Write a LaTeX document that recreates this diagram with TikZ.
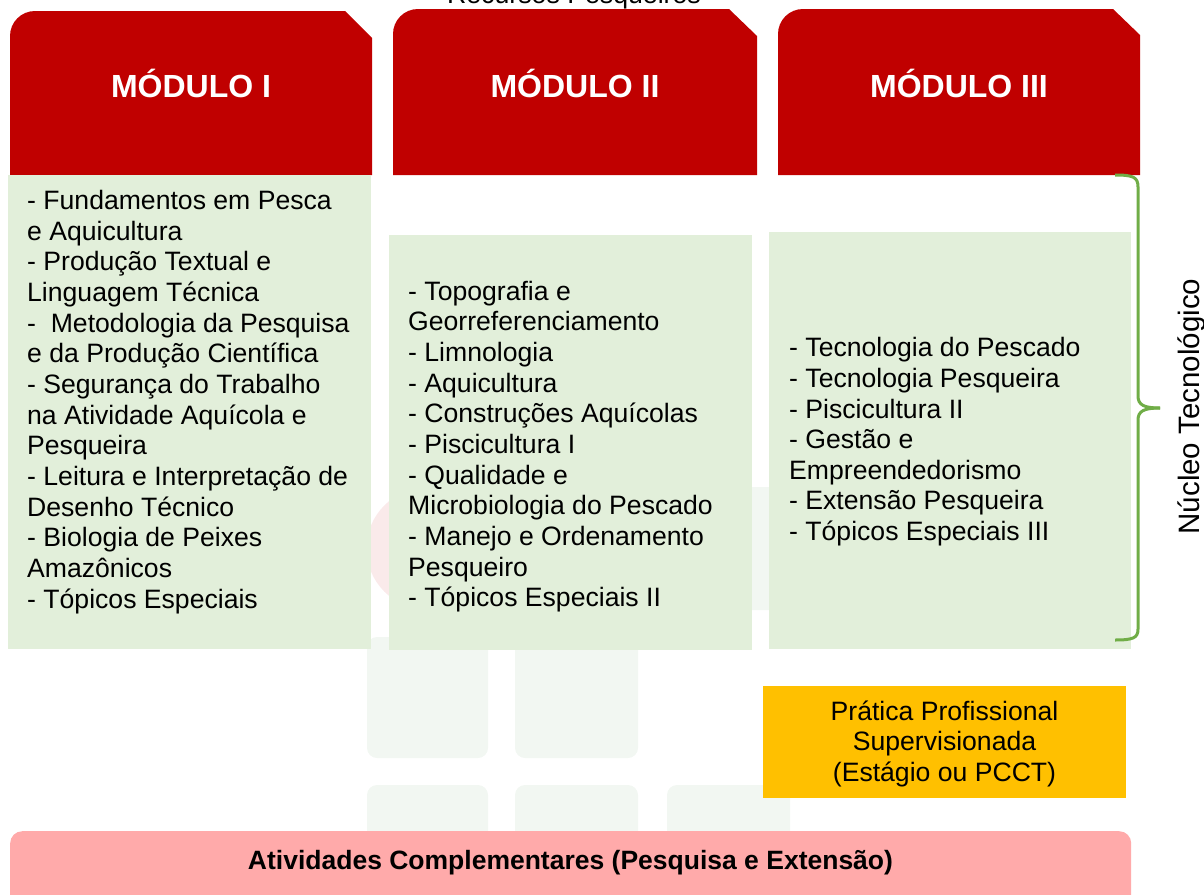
\documentclass[tikz,border=0pt]{standalone}
\usepackage{fontspec}
\setmainfont{Liberation Sans}
\definecolor{hdrred}{HTML}{C00000}
\definecolor{boxgreen}{HTML}{E2EFDA}
\definecolor{braceg}{HTML}{70AD47}
\definecolor{yel}{HTML}{FFC000}
\definecolor{pinkb}{HTML}{FFAAAA}
\definecolor{wmgreen}{HTML}{F2F7F2}
\definecolor{wmred}{HTML}{FAEAEA}
\tikzset{
  hdrshape/.style={fill=hdrred},
  hdrtitle/.style={text=white,font=\fontsize{32}{37}\selectfont\bfseries,inner sep=0pt,anchor=base},
  gbox/.style={fill=boxgreen,draw=none,inner sep=0pt,anchor=north west},
  listtext/.style={font=\fontsize{26.6}{30.65}\selectfont,align=left,inner sep=0pt,anchor=base west,text=black},
  wmsq/.style={fill=wmgreen,rounded corners=10pt},
}
\begin{document}
\begin{tikzpicture}[x=1pt,y=-1pt]
\useasboundingbox (0,0) rectangle (1204,894);
% watermark
\fill[wmred] (427.5,548.5) circle (61);
\fill[wmsq] (515,487) rectangle (638,610);
\fill[wmsq] (667,487) rectangle (790,610);
\fill[wmsq] (367,637) rectangle (488,758);
\fill[wmsq] (515,637) rectangle (638,758);
\fill[wmsq] (367,785) rectangle (488,908);
\fill[wmsq] (515,785) rectangle (638,908);
\fill[wmsq] (667,785) rectangle (790,908);
% top text
\node[font=\fontsize{26.7}{30}\selectfont,inner sep=0pt,anchor=base] (rp) at (574,3) {Recursos Pesqueiros};
% headers
\fill[hdrshape] (10,175) -- (10,36) arc[start angle=180,end angle=270,radius=25] -- (345,11) -- (372,38) -- (372,175) -- cycle;
\fill[hdrshape] (393,175) -- (393,34) arc[start angle=180,end angle=270,radius=25] -- (729,9) -- (757,36) -- (757,175) -- cycle;
\fill[hdrshape] (778,175) -- (778,34) arc[start angle=180,end angle=270,radius=25] -- (1113,9) -- (1140,35) -- (1140,175) -- cycle;
\node[hdrtitle] (t1) at (191,97) {MÓDULO I};
\node[hdrtitle] (t2) at (575,97) {MÓDULO II};
\node[hdrtitle] (t3) at (959,97) {MÓDULO III};
% green boxes
\node[gbox,minimum width=363.4pt,minimum height=473.3pt] (g1) at (7.3,175) {};
\node[gbox,minimum width=363.4pt,minimum height=414.3pt] (g2) at (388.3,235) {};
\node[gbox,minimum width=362pt,minimum height=417pt] (g3) at (769,232) {};
% lists (anchor = baseline of last line)
\node[listtext] (l1) at (27,608) {- Fundamentos em Pesca\\e Aquicultura\\- Produção Textual e\\Linguagem Técnica\\-~ Metodologia da Pesquisa\\e da Produção Científica\\- Segurança do Trabalho\\na Atividade Aquícola e\\Pesqueira\\- Leitura e Interpretação de\\Desenho Técnico\\- Biologia de Peixes\\Amazônicos\\- Tópicos Especiais};
\node[listtext] (l2) at (408,606.7) {- Topografia e\\Georreferenciamento\\- Limnologia\\- Aquicultura\\- Construções Aquícolas\\- Piscicultura I\\- Qualidade e\\Microbiologia do Pescado\\- Manejo e Ordenamento\\Pesqueiro\\- Tópicos Especiais II};
\node[listtext] (l3) at (789,540.6) {- Tecnologia do Pescado\\- Tecnologia Pesqueira\\- Piscicultura II\\- Gestão e\\Empreendedorismo\\- Extensão Pesqueira\\- Tópicos Especiais III};
% brace
\coordinate (bt) at (1115,175);
\coordinate (bb) at (1115,640);
\coordinate (btip) at (1160,408);
\draw[braceg,line width=3pt] (bt) .. controls (1133,175) and (1138,177) .. (1138,187) -- (1138,396) .. controls (1138,405) and (1144,408) .. (btip);
\draw[braceg,line width=3pt] (btip) .. controls (1144,408) and (1138,411) .. (1138,420) -- (1138,629) .. controls (1138,638) and (1133,640) .. (bb);
\node[font=\fontsize{29.5}{34}\selectfont,inner sep=0pt,anchor=base,rotate=90] (nt) at (1199.5,406.5) {Núcleo Tecnológico};
% yellow box
\node[fill=yel,inner sep=0pt,anchor=north west,minimum width=363pt,minimum height=111.7pt] (yb) at (763,686) {};
\node[font=\fontsize{26.6}{30.8}\selectfont,align=center,inner sep=0pt,anchor=base] (yt) at (944.5,781.7) {Prática Profissional\\Supervisionada\\(Estágio ou PCCT)};
% pink box
\node[fill=pinkb,rounded corners=12pt,inner sep=0pt,anchor=north west,minimum width=1121pt,minimum height=80pt] (pb) at (10,831) {};
\node[font=\fontsize{26.5}{30}\selectfont\bfseries,inner sep=0pt,anchor=base] (pt) at (570.5,869) {Atividades Complementares (Pesquisa e Extensão)};
\end{tikzpicture}
\end{document}
